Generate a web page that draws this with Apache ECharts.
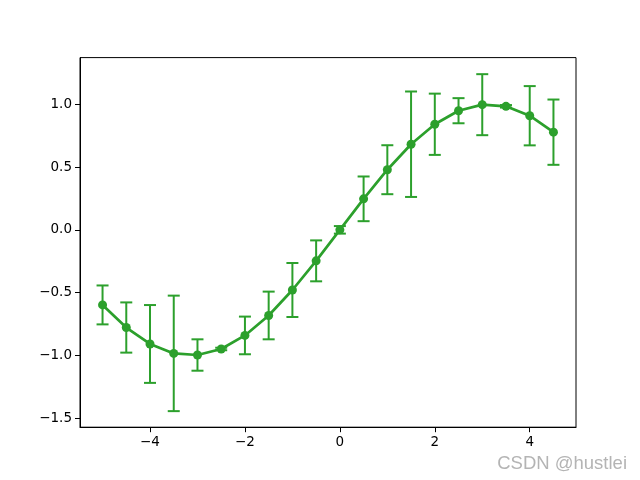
<!DOCTYPE html>
<html>
<head>
<meta charset="utf-8">
<script src="https://cdn.jsdelivr.net/npm/echarts@6/dist/echarts.min.js"></script>
<style>html,body{margin:0;padding:0;background:#fff}#c{width:640px;height:480px}</style>
</head>
<body>
<div id="c"></div>
<script>
const xValues = [-5, -4.5, -4, -3.5, -3, -2.5, -2, -1.5, -1, -0.5, 0, 0.5, 1, 1.5, 2, 2.5, 3, 3.5, 4, 4.5];
const yValues = [-0.598, -0.778, -0.909, -0.984, -0.997, -0.949, -0.841, -0.682, -0.479, -0.247, 0, 0.247, 0.479, 0.682, 0.841, 0.949, 0.997, 0.984, 0.909, 0.778];
const yErrors = [0.155, 0.2, 0.31, 0.46, 0.125, 0.01, 0.15, 0.19, 0.215, 0.163, 0.03, 0.178, 0.195, 0.42, 0.244, 0.1, 0.243, 0.01, 0.236, 0.26];
const xTicks = [-4, -2, 0, 2, 4];
const yTicks = [-1.5, -1.0, -0.5, 0.0, 0.5, 1.0];

const green = '#2ca02c';
const fmt = (v, d) => (v < 0 ? '\u2212' : '') + Math.abs(v).toFixed(d);

const lineData = xValues.map((x, i) => [x, yValues[i]]);
const errData = xValues.map((x, i) => [x, yValues[i] - yErrors[i], yValues[i] + yErrors[i]]);

const chart = echarts.init(document.getElementById('c'), null, {renderer: 'canvas'});
const axisLine = {show: true, onZero: false, lineStyle: {color: '#000', width: 1}};
chart.setOption({
  animation: false,
  backgroundColor: '#fff',
  grid: {left: 80, right: 64, top: 57.6, bottom: 52.8, show: true, borderColor: '#000', borderWidth: 1, containLabel: false},
  xAxis: {
    type: 'value', min: -5.475, max: 4.975,
    axisLine: axisLine, splitLine: {show: false},
    axisTick: {show: true, length: 5, customValues: xTicks, lineStyle: {color: '#000'}},
    axisLabel: {customValues: xTicks, color: '#000', fontFamily: 'DejaVu Sans', fontSize: 13.5, margin: 8,
      formatter: v => fmt(v, 0)}
  },
  yAxis: {
    type: 'value', min: -1.572, max: 1.372,
    axisLine: axisLine, splitLine: {show: false},
    axisTick: {show: true, length: 5, customValues: yTicks, lineStyle: {color: '#000'}},
    axisLabel: {customValues: yTicks, color: '#000', fontFamily: 'DejaVu Sans', fontSize: 13.5, margin: 8,
      formatter: v => fmt(v, 1)}
  },
  graphic: [{
    type: 'text', x: 627, y: 464,
    style: {text: 'CSDN @hustlei', fill: '#b4b4b4', align: 'right', verticalAlign: 'middle',
      font: '18.5px "Liberation Sans", Arial, sans-serif'}
  }],
  series: [
    {
      type: 'custom',
      data: errData,
      z: 2,
      renderItem: function (params, api) {
        const x = api.value(0);
        const lo = api.coord([x, api.value(1)]);
        const hi = api.coord([x, api.value(2)]);
        const cw = 6;
        const st = {stroke: green, lineWidth: 2};
        return {
          type: 'group',
          children: [
            {type: 'line', shape: {x1: lo[0], y1: lo[1], x2: hi[0], y2: hi[1]}, style: st},
            {type: 'line', shape: {x1: lo[0] - cw, y1: lo[1], x2: lo[0] + cw, y2: lo[1]}, style: st},
            {type: 'line', shape: {x1: hi[0] - cw, y1: hi[1], x2: hi[0] + cw, y2: hi[1]}, style: st}
          ]
        };
      }
    },
    {
      type: 'line',
      data: lineData,
      z: 3,
      symbol: 'circle',
      symbolSize: 9,
      showAllSymbol: true,
      lineStyle: {color: green, width: 2.7},
      itemStyle: {color: green, borderWidth: 0}
    }
  ]
});
</script>
</body>
</html>
